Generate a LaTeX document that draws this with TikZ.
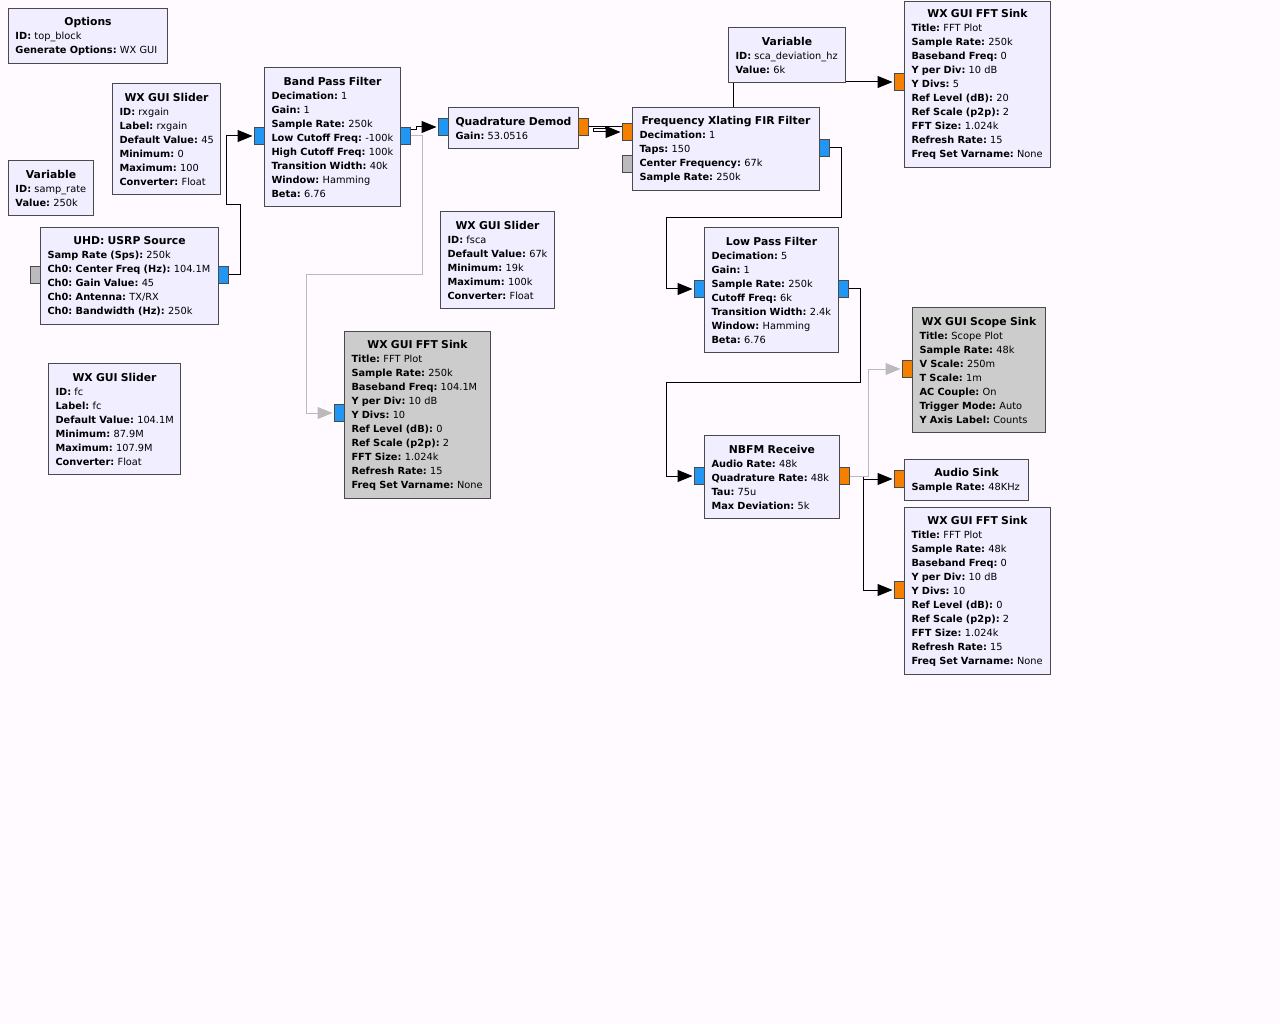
\documentclass[tikz,border=0pt]{standalone}
\usepackage{fontspec}
\setmainfont{DejaVu Sans}
\usetikzlibrary{arrows.meta}
\usetikzlibrary{backgrounds}

\definecolor{bgcol}{HTML}{FFFAFF}
\definecolor{blockcol}{HTML}{F0EEFF}
\definecolor{offcol}{HTML}{CCCCCC}
\definecolor{bordercol}{HTML}{4A4A4A}
\definecolor{cplx}{HTML}{2196F3}
\definecolor{flt}{HTML}{F58000}
\definecolor{msg}{HTML}{BBBBBB}
\definecolor{offline}{HTML}{BBBBBB}

\newcommand{\kv}[2]{\mbox{\textbf{#1:}\ #2}}
\newcommand{\btitle}[1]{\makebox[\linewidth][c]{\fontsize{10.8}{14}\selectfont\bfseries #1}}

\pgfdeclarelayer{wires}
\pgfsetlayers{wires,main}

\tikzset{
  block/.style={draw=bordercol, fill=blockcol, line width=1pt, inner xsep=7pt, inner ysep=0pt,
    anchor=north west, align=left, font=\fontsize{9.8}{14}\selectfont\frenchspacing},
  offblock/.style={block, fill=offcol},
  port/.style={draw=bordercol, line width=1pt, minimum width=10pt, minimum height=17pt, inner sep=0pt},
  bport/.style={port, fill=cplx},
  oport/.style={port, fill=flt},
  gport/.style={port, fill=msg},
  conn/.style={line width=1pt, -{Triangle[length=15pt,width=12pt]}, shorten >=1pt},
  offconn/.style={conn, draw=offline}
}

\begin{document}
\begin{tikzpicture}[x=1pt,y=-1pt]
        \begin{pgfonlayer}{wires}
        \fill[bgcol] (0,0) rectangle (1280,1024);
        \end{pgfonlayer}
        \useasboundingbox (0,0) rectangle (1280,1024);

        % blocks
        \node[block, minimum width=159, minimum height=55, text width=145pt] (opts) at (8,8)
          {\btitle{Options}\\ \kv{ID}{top\_block}\\ \kv{Generate Options}{WX GUI}};
        \node[block, minimum width=108, minimum height=111, text width=94pt] (rxgain) at (112,83)
          {\btitle{WX GUI Slider}\\ \kv{ID}{rxgain}\\ \kv{Label}{rxgain}\\ \kv{Default Value}{45}\\
           \kv{Minimum}{0}\\ \kv{Maximum}{100}\\ \kv{Converter}{Float}};
        \node[block, minimum width=85, minimum height=55, text width=71pt] (samprate) at (8,160)
          {\btitle{Variable}\\ \kv{ID}{samp\_rate}\\ \kv{Value}{250k}};
        \node[block, minimum width=136, minimum height=139, text width=122pt] (bpf) at (264,67)
          {\btitle{Band Pass Filter}\\ \kv{Decimation}{1}\\ \kv{Gain}{1}\\ \kv{Sample Rate}{250k}\\
           \kv{Low Cutoff Freq}{-100k}\\ \kv{High Cutoff Freq}{100k}\\ \kv{Transition Width}{40k}\\
           \kv{Window}{Hamming}\\ \kv{Beta}{6.76}};
        \node[block, minimum width=178, minimum height=97, text width=164pt] (usrp) at (40,227)
          {\btitle{UHD: USRP Source}\\ \kv{Samp Rate (Sps)}{250k}\\ \kv{Ch0: Center Freq (Hz)}{104.1M}\\
           \kv{Ch0: Gain Value}{45}\\ \kv{Ch0: Antenna}{TX/RX}\\ \kv{Ch0: Bandwidth (Hz)}{250k}};
        \node[block, minimum width=130, minimum height=41, text width=116pt] (qdemod) at (448,107)
          {\btitle{Quadrature Demod}\\ \kv{Gain}{53.0516}};
        \node[block, minimum width=117, minimum height=55, text width=103pt] (scadev) at (728,27)
          {\btitle{Variable}\\ \kv{ID}{sca\_deviation\_hz}\\ \kv{Value}{6k}};
        \node[block, minimum width=146, minimum height=166, text width=132pt] (fftone) at (904,1)
          {\btitle{WX GUI FFT Sink}\\ \kv{Title}{FFT Plot}\\ \kv{Sample Rate}{250k}\\ \kv{Baseband Freq}{0}\\
           \kv{Y per Div}{10 dB}\\ \kv{Y Divs}{5}\\ \kv{Ref Level (dB)}{20}\\ \kv{Ref Scale (p2p)}{2}\\
           \kv{FFT Size}{1.024k}\\ \kv{Refresh Rate}{15}\\ \kv{Freq Set Varname}{None}};
        \node[block, minimum width=187, minimum height=83, text width=173pt] (xlat) at (632,107)
          {\btitle{Frequency Xlating FIR Filter}\\ \kv{Decimation}{1}\\ \kv{Taps}{150}\\
           \kv{Center Frequency}{67k}\\ \kv{Sample Rate}{250k}};
        \node[block, minimum width=114, minimum height=97, text width=100pt] (fsca) at (440,211)
          {\btitle{WX GUI Slider}\\ \kv{ID}{fsca}\\ \kv{Default Value}{67k}\\ \kv{Minimum}{19k}\\
           \kv{Maximum}{100k}\\ \kv{Converter}{Float}};
        \node[block, minimum width=134, minimum height=125, text width=120pt] (lpf) at (704,227)
          {\btitle{Low Pass Filter}\\ \kv{Decimation}{5}\\ \kv{Gain}{1}\\ \kv{Sample Rate}{250k}\\
           \kv{Cutoff Freq}{6k}\\ \kv{Transition Width}{2.4k}\\ \kv{Window}{Hamming}\\ \kv{Beta}{6.76}};
        \node[offblock, minimum width=146, minimum height=167, text width=132pt] (fftzero) at (344,331)
          {\btitle{WX GUI FFT Sink}\\ \kv{Title}{FFT Plot}\\ \kv{Sample Rate}{250k}\\ \kv{Baseband Freq}{104.1M}\\
           \kv{Y per Div}{10 dB}\\ \kv{Y Divs}{10}\\ \kv{Ref Level (dB)}{0}\\ \kv{Ref Scale (p2p)}{2}\\
           \kv{FFT Size}{1.024k}\\ \kv{Refresh Rate}{15}\\ \kv{Freq Set Varname}{None}};
        \node[block, minimum width=132, minimum height=111, text width=118pt] (fc) at (48,363)
          {\btitle{WX GUI Slider}\\ \kv{ID}{fc}\\ \kv{Label}{fc}\\ \kv{Default Value}{104.1M}\\
           \kv{Minimum}{87.9M}\\ \kv{Maximum}{107.9M}\\ \kv{Converter}{Float}};
        \node[offblock, minimum width=133, minimum height=125, text width=119pt] (scope) at (912,307)
          {\btitle{WX GUI Scope Sink}\\ \kv{Title}{Scope Plot}\\ \kv{Sample Rate}{48k}\\ \kv{V Scale}{250m}\\
           \kv{T Scale}{1m}\\ \kv{AC Couple}{On}\\ \kv{Trigger Mode}{Auto}\\ \kv{Y Axis Label}{Counts}};
        \node[block, minimum width=135, minimum height=83, text width=121pt] (nbfm) at (704,435)
          {\btitle{NBFM Receive}\\ \kv{Audio Rate}{48k}\\ \kv{Quadrature Rate}{48k}\\ \kv{Tau}{75u}\\
           \kv{Max Deviation}{5k}};
        \node[block, minimum width=124, minimum height=41, text width=110pt] (audio) at (904,459)
          {\btitle{Audio Sink}\\ \kv{Sample Rate}{48KHz}};
        \node[block, minimum width=146, minimum height=167, text width=132pt] (ffttwo) at (904,507)
          {\btitle{WX GUI FFT Sink}\\ \kv{Title}{FFT Plot}\\ \kv{Sample Rate}{48k}\\ \kv{Baseband Freq}{0}\\
           \kv{Y per Div}{10 dB}\\ \kv{Y Divs}{10}\\ \kv{Ref Level (dB)}{0}\\ \kv{Ref Scale (p2p)}{2}\\
           \kv{FFT Size}{1.024k}\\ \kv{Refresh Rate}{15}\\ \kv{Freq Set Varname}{None}};

        % ports
        \node[gport] (usrpmsg) at (35,275) {};
        \node[bport] (usrpout) at (223,275) {};
        \node[bport] (bpfin) at (259,136) {};
        \node[bport] (bpfout) at (405,136) {};
        \node[bport] (qdin) at (443,127) {};
        \node[oport] (qdout) at (583,127) {};
        \node[oport] (xlin) at (627,132) {};
        \node[gport] (xlmsg) at (627,164) {};
        \node[bport] (xlout) at (824,148) {};
        \node[oport] (fftonein) at (899,82) {};
        \node[bport] (lpfin) at (699,289) {};
        \node[bport] (lpfout) at (843,289) {};
        \node[bport] (fftzeroin) at (339,413) {};
        \node[oport] (scopein) at (907,369) {};
        \node[bport] (nbfmin) at (699,476) {};
        \node[oport] (nbfmout) at (844,476) {};
        \node[oport] (audioin) at (899,479) {};
        \node[oport] (ffttwoin) at (899,590) {};

        \begin{pgfonlayer}{wires}
        \draw[conn] (usrpout.east) -- (240,275) |- (226,205) |- (bpfin.west);
        \draw[conn] ([yshift=6pt]bpfout.east) -- ++(6,0) |- (qdin.west);
        \draw[conn] (qdout.east) -- (733,127) |- (fftonein.west);
        \draw[conn] (qdout.east) -- ++(17,0) -- ++(0,2) -- ++(-12,0) |- (xlin.west);
        \draw[conn] (xlout.east) -- (841,148) |- (666,218) |- (lpfin.west);
        \draw[conn] (lpfout.east) -- (860,289) |- (666,382) |- (nbfmin.west);
        \draw[conn] (nbfmout.east) -- (863,476) |- (audioin.west);
        \draw[conn] (nbfmout.east) -- (863,476) |- (ffttwoin.west);
        \draw[offconn] (bpfout.east) -- (422,136) |- (306,275) |- (fftzeroin.west);
        \draw[offconn] (nbfmout.east) -- (868,476) |- (scopein.west);
        \end{pgfonlayer}

      \end{tikzpicture}
\end{document}
